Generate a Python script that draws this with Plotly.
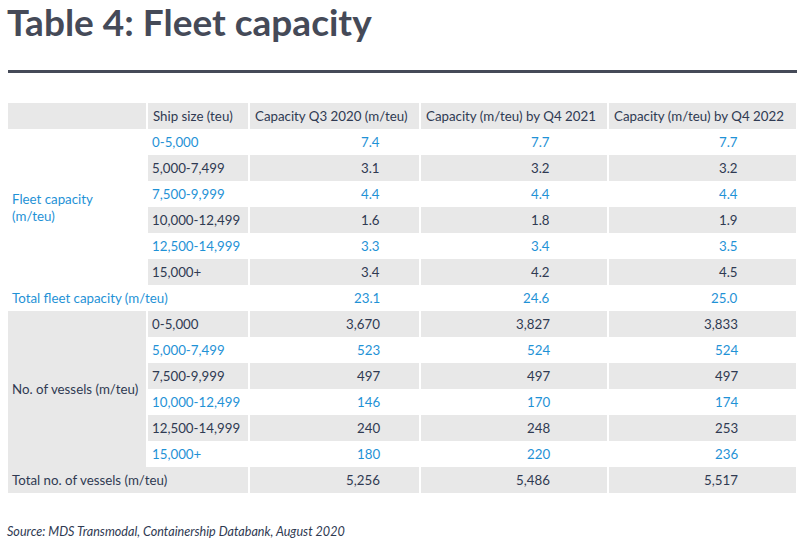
import plotly.graph_objects as go

# Table content
title_text = "Table 4: Fleet capacity"
source_text = "Source: MDS Transmodal, Containership Databank, August 2020"
headers = ["", "Ship size (teu)", "Capacity Q3 2020 (m/teu)",
           "Capacity (m/teu) by Q4 2021", "Capacity (m/teu) by Q4 2022"]

ship_sizes = ["0-5,000", "5,000-7,499", "7,500-9,999",
              "10,000-12,499", "12,500-14,999", "15,000+"]

cap_q3_2020 = [7.4, 3.1, 4.4, 1.6, 3.3, 3.4]
cap_q4_2021 = [7.7, 3.2, 4.4, 1.8, 3.4, 4.2]
cap_q4_2022 = [7.7, 3.2, 4.4, 1.9, 3.5, 4.5]
total_cap = [23.1, 24.6, 25.0]

vessels_q3_2020 = [3670, 523, 497, 146, 240, 180]
vessels_q4_2021 = [3827, 524, 497, 170, 248, 220]
vessels_q4_2022 = [3833, 524, 497, 174, 253, 236]
total_vessels = [5256, 5486, 5517]

# Style
GREY = "#e8e8e8"
BLUE = "#1f92d6"
DARK = "#2f3a52"
TITLE_C = "#454a58"
FONT = "Lato"

# Layout grid (pixels)
col_edges = [8, 147, 249, 420, 608, 796]
value_right = [382, 552, 740]
row_top = 103
row_h = 26

shapes = []
annos = []


def ry(i):
    return row_top + i * row_h


def cell(x0, x1, r0, r1, grey):
    if grey:
        shapes.append(dict(type="rect", xref="x", yref="y", x0=x0, x1=x1,
                           y0=ry(r0), y1=ry(r1), fillcolor=GREY,
                           line=dict(width=0), layer="below"))


def text(x, y, s, color, anchor="left", size=13.3):
    annos.append(dict(x=x, y=y, xref="x", yref="y", text=s, showarrow=False,
                      xanchor=anchor, yanchor="middle", align="left",
                      font=dict(family=FONT, size=size, color=color)))


def gx(c):
    # cell x-extent with white separator gaps
    x0 = col_edges[c] + (1 if c > 0 else 0)
    x1 = col_edges[c + 1] - (1 if c + 1 < len(col_edges) - 1 else 0)
    return x0, x1


# header row
for c in range(5):
    x0, x1 = gx(c)
    cell(x0, x1, 0, 1, True)
    if headers[c]:
        text(col_edges[c] + 4, ry(0.5), headers[c], DARK)

# fleet capacity group
text(10, ry(1 + 3), "Fleet capacity<br>(m/teu)", BLUE)
for i, size in enumerate(ship_sizes):
    r = 1 + i
    grey = i % 2 == 1
    col = DARK if grey else BLUE
    for c in range(1, 5):
        x0, x1 = gx(c)
        cell(x0, x1, r, r + 1, grey)
    text(150, ry(r + 0.5), size, col)
    for k, vals in enumerate([cap_q3_2020, cap_q4_2021, cap_q4_2022]):
        text(value_right[k], ry(r + 0.5), f"{vals[i]:.1f}", col, "right")

# total fleet row
r = 7
text(10, ry(r + 0.5), "Total fleet capacity (m/teu)", BLUE)
for k, v in enumerate(total_cap):
    text(value_right[k], ry(r + 0.5), f"{v:.1f}", BLUE, "right")

# vessels group
x0, x1 = gx(0)
cell(x0, x1, 8, 14, True)
text(10, ry(8 + 3), "No. of vessels (m/teu)", DARK)
for i, size in enumerate(ship_sizes):
    r = 8 + i
    grey = i % 2 == 0
    col = DARK if grey else BLUE
    for c in range(1, 5):
        x0, x1 = gx(c)
        cell(x0, x1, r, r + 1, grey)
    text(150, ry(r + 0.5), size, col)
    for k, vals in enumerate([vessels_q3_2020, vessels_q4_2021, vessels_q4_2022]):
        text(value_right[k], ry(r + 0.5), f"{vals[i]:,}", col, "right")

# total vessels row
r = 14
cell(col_edges[0], col_edges[2] - 1, r, r + 1, True)
for c in range(2, 5):
    x0, x1 = gx(c)
    cell(x0, x1, r, r + 1, True)
text(10, ry(r + 0.5), "Total no. of vessels (m/teu)", DARK)
for k, v in enumerate(total_vessels):
    text(value_right[k], ry(r + 0.5), f"{v:,}", DARK, "right")

# title, rule, source
text(5, 21, f"<b>{title_text}</b>", TITLE_C, size=37)
shapes.append(dict(type="line", xref="x", yref="y", x0=8, x1=797, y0=71.5, y1=71.5,
                   line=dict(color=TITLE_C, width=3)))
text(5, 531, f"<i>{source_text}</i>", DARK, size=12.6)

fig = go.Figure()
fig.update_layout(
    width=807, height=544,
    margin=dict(l=0, r=0, t=0, b=0),
    paper_bgcolor="white", plot_bgcolor="white",
    xaxis=dict(range=[0, 807], visible=False, fixedrange=True),
    yaxis=dict(range=[544, 0], visible=False, fixedrange=True),
    shapes=shapes, annotations=annos, showlegend=False,
)

fig.write_html("out.html", config={"displayModeBar": False},
               post_script="document.body.style.margin='0';document.body.style.overflow='hidden';")
